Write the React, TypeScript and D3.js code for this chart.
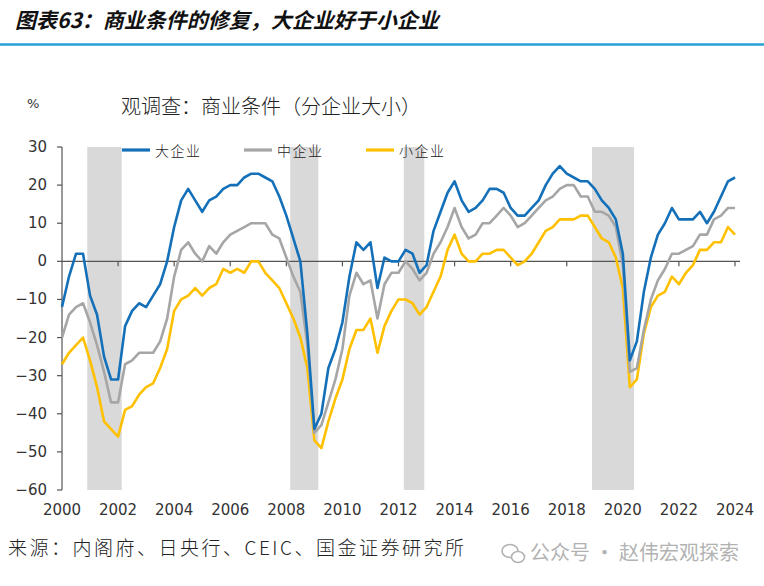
import * as d3 from "d3";
import React from "react";

// 日銀短観 業況判断DI（全産業、実績）, 季度, 2000Q1 起
const START_YEAR = 2000;

const largeFirms = [
  -12, -4, 2, 2, -9, -14, -25, -31, -31, -17,
  -13, -11, -12, -9, -6, 0, 9, 16, 19, 16,
  13, 16, 17, 19, 20, 20, 22, 23, 23, 22,
  21, 17, 12, 6, 0, -19, -44, -40, -28, -23,
  -16, -4, 5, 3, 5, -7, 1, 0, 0, 3,
  2, -3, -1, 8, 13, 18, 21, 16, 13, 14,
  16, 19, 19, 18, 14, 12, 12, 14, 16, 20,
  23, 25, 23, 22, 21, 21, 19, 16, 14, 11,
  2, -26, -21, -8, 1, 7, 10, 14, 11, 11,
  11, 13, 10, 13, 17, 21, 22,
];

const mediumFirms = [
  -20, -14, -12, -11, -16, -22, -29, -37, -37, -27,
  -26, -24, -24, -24, -21, -15, -4, 3, 5, 2,
  0, 4, 2, 5, 7, 8, 9, 10, 10, 10,
  7, 6, 1, -4, -8, -22, -45, -43, -37, -31,
  -23, -9, -3, -6, -5, -15, -6, -3, -3, 0,
  -2, -5, -3, 2, 5, 9, 14, 9, 6, 7,
  10, 10, 12, 14, 12, 9, 10, 12, 14, 16,
  17, 19, 20, 20, 17, 17, 13, 13, 12, 9,
  -1, -29, -28, -18, -10, -5, -2, 2, 2, 3,
  4, 7, 7, 11, 12, 14, 14,
];

const smallFirms = [
  -27, -24, -22, -20, -26, -33, -42, -44, -46, -39,
  -38, -35, -33, -32, -28, -23, -13, -10, -9, -7,
  -9, -7, -6, -2, -3, -2, -3, 0, 0, -3,
  -5, -7, -11, -15, -20, -28, -47, -49, -42, -36,
  -31, -23, -18, -18, -15, -24, -17, -13, -10, -10,
  -11, -14, -12, -8, -4, 3, 7, 2, 0, 0,
  2, 2, 3, 3, 1, -1, 0, 2, 5, 8,
  9, 11, 11, 11, 12, 12, 9, 6, 5, 1,
  -7, -33, -31, -19, -12, -9, -8, -4, -6, -3,
  -1, 3, 3, 5, 5, 9, 7,
];

// 景气衰退期（阴影）
const recessions: [number, number][] = [
  [2000.9, 2002.13],
  [2008.14, 2009.14],
  [2012.19, 2012.92],
  [2018.9, 2020.4],
];

const yTicks = [30, 20, 10, 0, -10, -20, -30, -40, -50, -60];
const xTicks = [2000, 2002, 2004, 2006, 2008, 2010, 2012, 2014, 2016, 2018, 2020, 2022, 2024];

const series = [
  { name: "大企业", values: largeFirms, color: "#1470b8", legendX: 122 },
  { name: "中企业", values: mediumFirms, color: "#a6a6a6", legendX: 244 },
  { name: "小企业", values: smallFirms, color: "#ffc000", legendX: 366 },
];

const CJK = "'Noto Sans CJK SC', sans-serif";
const NUM = "'DejaVu Sans', sans-serif";

export default function App() {
  const width = 764;
  const height = 586;

  const x = d3.scaleLinear().domain([2000, 2024]).range([62, 735]);
  const y = d3.scaleLinear().domain([-60, 30]).range([490, 147]);

  const line = d3
    .line<number>()
    .x((_, i) => x(START_YEAR + i / 4))
    .y((d) => y(d));

  return (
    <svg
      width={width}
      height={height}
      style={{ position: "absolute", left: 0, top: 0, background: "#fff" }}
    >
      {/* 报告标题 */}
      <text
        x={15}
        y={28}
        fontFamily={CJK}
        fontSize={21}
        fontWeight="bold"
        fontStyle="italic"
        fill="#111"
      >
        图表63：商业条件的修复，大企业好于小企业
      </text>
      <line x1={0} x2={width} y1={44.5} y2={44.5} stroke="#27a2d8" strokeWidth={2.5} />

      {/* 图内标题 */}
      <text x={121} y={114} fontFamily={CJK} fontSize={20} fontWeight={300} fill="#222">
        观调查：商业条件（分企业大小）
      </text>
      <text x={27} y={108} fontFamily={NUM} fontSize={13} fill="#333">
        %
      </text>

      {/* 阴影 */}
      {recessions.map(([a, b], i) => (
        <rect
          key={i}
          x={x(a)}
          y={y(30)}
          width={x(b) - x(a)}
          height={y(-60) - y(30)}
          fill="#d9d9d9"
        />
      ))}

      {/* y 轴 */}
      <line x1={x(2000)} x2={x(2000)} y1={y(30)} y2={y(-60)} stroke="#555" strokeWidth={1.2} />
      {yTicks.map((t) => (
        <g key={t}>
          <line x1={x(2000) - 5} x2={x(2000)} y1={y(t)} y2={y(t)} stroke="#555" strokeWidth={1.2} />
          <text
            x={47}
            y={y(t)}
            textAnchor="end"
            dominantBaseline="central"
            fontFamily={NUM}
            fontSize={15}
            fill="#333"
          >
            {t < 0 ? `−${-t}` : t}
          </text>
        </g>
      ))}

      {/* x 轴（0 线） */}
      <line x1={x(2000)} x2={740} y1={y(0)} y2={y(0)} stroke="#555" strokeWidth={1.3} />
      {xTicks.map((t) => (
        <g key={t}>
          {t > 2000 && (
            <line x1={x(t)} x2={x(t)} y1={y(0)} y2={y(0) + 5} stroke="#555" strokeWidth={1.2} />
          )}
          <text
            x={x(t)}
            y={510}
            textAnchor="middle"
            dominantBaseline="central"
            fontFamily={NUM}
            fontSize={15}
            fill="#333"
          >
            {t}
          </text>
        </g>
      ))}

      {/* 折线 */}
      {[...series].reverse().map((s) => (
        <path
          key={s.name}
          d={line(s.values) ?? ""}
          fill="none"
          stroke={s.color}
          strokeWidth={2.6}
          strokeLinejoin="round"
        />
      ))}

      {/* 图例 */}
      {series.map((s) => (
        <g key={s.name} transform={`translate(${s.legendX}, 150)`}>
          <line x1={0} x2={28} y1={0} y2={0} stroke={s.color} strokeWidth={3.2} />
          <text
            x={33}
            y={0}
            dominantBaseline="central"
            fontFamily={CJK}
            fontSize={14}
            fontWeight={300}
            letterSpacing={1.5}
            fill="#222"
          >
            {s.name}
          </text>
        </g>
      ))}

      {/* 来源 */}
      <text x={8} y={555} fontFamily={CJK} fontSize={19} fontWeight={300} letterSpacing={2.5} fill="#222">
        来源：内阁府、日央行、CEIC、国金证券研究所
      </text>

      {/* 水印 */}
      <g opacity={0.75}>
        <ellipse cx={510} cy={551} rx={8} ry={6.5} fill="none" stroke="#999" strokeWidth={1.6} />
        <ellipse cx={518} cy={557} rx={6.5} ry={5.5} fill="#fff" stroke="#999" strokeWidth={1.6} />
        <text x={530} y={560} fontFamily={CJK} fontSize={20} fill="#999">
          公众号 · 赵伟宏观探索
        </text>
      </g>
    </svg>
  );
}
